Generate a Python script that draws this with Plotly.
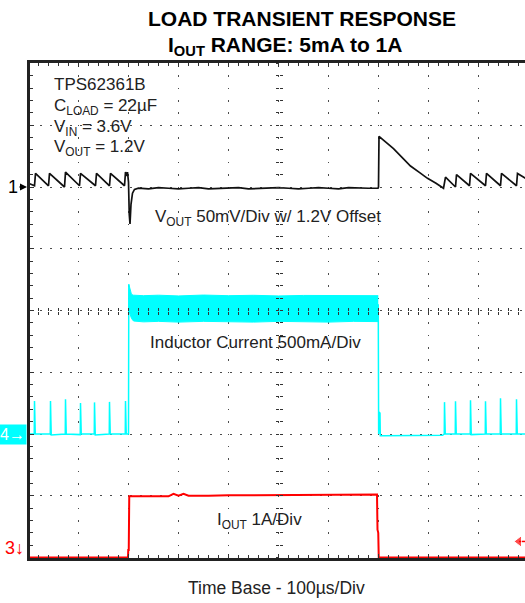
import plotly.graph_objects as go

# ---------------------------------------------------------------- geometry
FIG_W, FIG_H = 525, 603
M_L, M_R, M_T, M_B = 30, 0, 63, 45
PLOT_W = FIG_W - M_L - M_R
PLOT_H = FIG_H - M_T - M_B

X_RANGE = [3, 993]           # time in µs, 100 µs per division
Y_RANGE = [-4.008, 4.008]    # screen divisions

# ---------------------------------------------------------------- channel setup
VOUT_SCALE_MV = 50.0   # CH1, mV/div, 1.2 V offset removed
VOUT_POS_DIV = 2.0
IL_SCALE_MA = 500.0    # CH4, mA/div
IL_POS_DIV = -2.0
IOUT_SCALE_A = 1.0     # CH3, A/div
IOUT_POS_DIV = -4.0
TRIGGER_LEVEL_A = 0.26

# ---------------------------------------------------------------- waveforms
# output voltage deviation from 1.2 V (mV)
vout_t = [0, 12, 14, 40, 42, 72, 74, 102, 104, 134, 136, 162, 164, 192, 194, 197, 198,
          200, 201.5, 203, 205, 208, 212, 220, 240, 260, 280, 300, 320, 340, 360, 380,
          400, 420, 440, 460, 480, 500, 520, 540, 560, 580, 600, 620, 640, 660, 680,
          699, 700, 701, 715, 730, 747, 764, 781, 798, 815, 830, 834, 854, 856, 882,
          884, 914, 916, 944, 946, 976, 978, 994]
vout_mv = [3, 1, 11, 1, 11, 0, 12, 1, 11, 1, 11, 1, 11, 1, 12, 9, 12,
           4, -22, -30, -14, -5, -2, -1, -1.5, -0.5, -1, -1.5, -1, -0.5, -1.5, -1,
           -1, -0.5, -1.5, -1, -1, -0.5, -1, -1.5, -1, -0.5, -1, -1.5, -0.5, -1, -1,
           -1, 0, 41, 36, 31, 24, 17, 12, 7, 3, -1, 8, 0, 10, 1,
           11, 1, 11, 1, 11, 1, 11, 7]

# inductor current (mA), light-load pulses before the load step
il_left_t = [0, 11.5, 12, 12.8, 13.5, 43.5, 44, 44.8, 45.5, 73.5, 74, 74.8, 75.5,
             103.5, 104, 104.8, 105.5, 131.5, 132, 132.8, 133.5, 161.5, 162, 162.8,
             163.5, 193.5, 194, 194.8, 195.5, 200, 200.6]
il_left_ma = [0, 0, 268, 120, 0, 0, 268, 110, -8, 0, 282, 130, 0,
              -5, 250, 115, 0, 0, 256, 120, -8, 0, 260, 125,
              0, 0, 268, 130, 0, 0, 1212]

# inductor current ripple envelope during the 1 A load (mA)
band_t = [200.6, 202, 204, 206, 210, 230, 260, 300, 350, 400, 450, 500, 550, 600, 650, 699.5]
band_hi_ma = [1212, 1190, 1150, 1130, 1124, 1120, 1124, 1118, 1125, 1120, 1123, 1118, 1122, 1120, 1124, 1120]
band_lo_ma = [1000, 985, 960, 935, 915, 908, 912, 906, 912, 908, 906, 912, 910, 906, 912, 910]

# inductor current after the load is released (mA)
il_right_t = [699.5, 700.3, 701, 703, 703.6, 710, 760, 800, 828, 831.5, 832, 832.8, 833.5,
              853.5, 854, 854.8, 855.5, 883.5, 884, 884.8, 885.5, 913.5, 914, 914.8,
              915.5, 943.5, 944, 944.8, 945.5, 975.5, 976, 976.8, 977.5, 994]
il_right_ma = [1050, 0, 177, 170, -15, -15, -12, -15, -10, 0, 258, 121, 0,
               0, 266, 120, 0, 0, 274, 125, -5, 0, 266, 118,
               0, 0, 290, 130, 0, 0, 282, 125, 0, 0]

# load current (A)
iout_t = [0, 100, 199, 199.5, 200.5, 201.5, 240, 280, 290, 300, 310, 320, 360, 400,
          450, 500, 550, 600, 650, 697, 698, 699.5, 700.5, 994]
iout_a = [0, 0, 0, 0.12, 0.12, 0.99, 0.99, 0.99, 1.03, 1.0, 1.03, 1.0, 1.0, 1.01,
          1.01, 1.01, 1.02, 1.02, 1.02, 1.02, 0.45, 0.4, 0, 0]


def to_div(values, scale, pos):
    return [pos + v / scale for v in values]


def px_x(px):
    return (px - M_L) / PLOT_W


def px_y(py):
    return (FIG_H - M_B - py) / PLOT_H


CYAN = "#00FFFF"
RED = "#FF0000"
INK = "#222222"
GRID = "#4d4d4d"
FONT = "Liberation Sans, Arial, sans-serif"

fig = go.Figure()

# inductor current ripple band
fig.add_trace(go.Scatter(x=band_t, y=to_div(band_lo_ma, IL_SCALE_MA, IL_POS_DIV),
                         mode="lines", line=dict(color=CYAN, width=1)))
fig.add_trace(go.Scatter(x=band_t, y=to_div(band_hi_ma, IL_SCALE_MA, IL_POS_DIV),
                         mode="lines", line=dict(color=CYAN, width=1),
                         fill="tonexty", fillcolor=CYAN))
fig.add_trace(go.Scatter(x=il_left_t, y=to_div(il_left_ma, IL_SCALE_MA, IL_POS_DIV),
                         mode="lines", line=dict(color=CYAN, width=1.5)))
fig.add_trace(go.Scatter(x=il_right_t, y=to_div(il_right_ma, IL_SCALE_MA, IL_POS_DIV),
                         mode="lines", line=dict(color=CYAN, width=1.5)))

# load current
fig.add_trace(go.Scatter(x=iout_t, y=to_div(iout_a, IOUT_SCALE_A, IOUT_POS_DIV),
                         mode="lines", line=dict(color=RED, width=2)))

# output voltage
fig.add_trace(go.Scatter(x=vout_t, y=to_div(vout_mv, VOUT_SCALE_MV, VOUT_POS_DIV),
                         mode="lines", line=dict(color="#111111", width=1.7)))

# trigger level marker on the right edge
trig_y = IOUT_POS_DIV + TRIGGER_LEVEL_A / IOUT_SCALE_A
fig.add_trace(go.Scatter(x=[X_RANGE[1] - 12, X_RANGE[1]], y=[trig_y, trig_y],
                         mode="lines+markers", cliponaxis=False,
                         line=dict(color=RED, width=1.5),
                         marker=dict(symbol=["triangle-left", "line-ns"], size=[10, 0],
                                     color=RED)))

# carriers for the centre graticule axes
for xa, ya in (("x2", "y"), ("x3", "y"), ("x", "y2"), ("x", "y3")):
    fig.add_trace(go.Scatter(x=[], y=[], xaxis=xa, yaxis=ya, hoverinfo="skip"))

common = dict(showticklabels=False, zeroline=False, fixedrange=True)
tick_col = "#333333"

fig.update_layout(
    width=FIG_W, height=FIG_H,
    margin=dict(l=M_L, r=M_R, t=M_T, b=M_B, pad=0),
    paper_bgcolor="white", plot_bgcolor="white",
    showlegend=False, hovermode=False,
    font=dict(family=FONT, color=INK),
    xaxis=dict(range=X_RANGE, dtick=100, tick0=0, showgrid=True, gridcolor=GRID,
               gridwidth=1.2, griddash="1.6px,10.75px",
               ticks="inside", ticklen=4, tickcolor=tick_col, tickwidth=1,
               showline=True, linecolor=INK, linewidth=3, mirror="ticks",
               layer="above traces",
               minor=dict(dtick=20, tick0=0, ticks="inside", ticklen=3,
                          tickcolor=tick_col, showgrid=False),
               **common),
    yaxis=dict(range=Y_RANGE, dtick=1, tick0=0, showgrid=True, gridcolor=GRID,
               gridwidth=1.2, griddash="1.6px,8.4px",
               ticks="inside", ticklen=4, tickcolor=tick_col, tickwidth=1,
               showline=True, linecolor=INK, linewidth=3, mirror=False,
               layer="above traces",
               minor=dict(dtick=0.2, tick0=0, ticks="inside", ticklen=3,
                          tickcolor=tick_col, showgrid=False),
               **common),
)

# centre cross of the graticule with short tick marks on both sides
for name, direction in (("xaxis2", "inside"), ("xaxis3", "outside")):
    fig.layout[name] = dict(overlaying="x", anchor="free", position=0.5, range=X_RANGE,
                            showgrid=False, showline=False, dtick=100, tick0=0,
                            ticks=direction, ticklen=3, tickcolor=tick_col,
                            minor=dict(dtick=20, tick0=0, ticks=direction, ticklen=3,
                                       tickcolor=tick_col),
                            **common)
centre_x = (500 - X_RANGE[0]) / (X_RANGE[1] - X_RANGE[0])
for name, direction in (("yaxis2", "inside"), ("yaxis3", "outside")):
    fig.layout[name] = dict(overlaying="y", anchor="free", position=centre_x, range=Y_RANGE,
                            showgrid=False, showline=False, dtick=1, tick0=0,
                            ticks=direction, ticklen=3, tickcolor=tick_col,
                            minor=dict(dtick=0.2, tick0=0, ticks=direction, ticklen=3,
                                       tickcolor=tick_col),
                            **common)

annotations = []


def label(text, x_px, base_px, size=17, sub=False, anchor="left", color=INK, bold=False):
    drop = 8.5 if sub else 4.8
    if bold:
        text = "<b>" + text + "</b>"
    annotations.append(dict(text=text, xref="paper", yref="paper",
                            x=px_x(x_px), y=px_y(base_px + drop),
                            xanchor=anchor, yanchor="bottom", showarrow=False,
                            font=dict(family=FONT, size=size, color=color)))


# title
label("LOAD TRANSIENT RESPONSE", 302, 27.5, size=21, anchor="center", color="#000000", bold=True)
label("I<sub style=\"font-size:85%\">OUT</sub> RANGE: 5mA to 1A", 285, 52, size=21, sub=True,
      anchor="center", color="#000000", bold=True)

# test conditions
label("TPS62361B", 52, 91)
label("C<sub>LOAD</sub> = 22µF", 52, 111.5, sub=True)
label("V<sub>IN</sub> = 3.6V", 52, 132, sub=True)
label("V<sub>OUT</sub> = 1.2V", 52, 153, sub=True)

# channel descriptions
label("V<sub>OUT</sub> 50mV/Div w/ 1.2V Offset", 153, 222.5, sub=True)
label("Inductor Current 500mA/Div", 148, 349.5)
label("I<sub>OUT</sub> 1A/Div", 215, 525.5, sub=True)
label("Time Base - 100µs/Div", 186, 595.5, size=17.5)

# channel ground markers
annotations.append(dict(text="1", xref="paper", yref="y", x=px_x(27), y=VOUT_POS_DIV,
                        showarrow=True, ax=-14, ay=0, arrowhead=2, arrowsize=1,
                        arrowwidth=1.4, arrowcolor="#000000",
                        font=dict(family=FONT, size=18, color="#000000")))
annotations.append(dict(text="4→", xref="paper", yref="y", x=px_x(27), y=IL_POS_DIV,
                        xanchor="right", yanchor="middle", showarrow=False,
                        bgcolor=CYAN, borderpad=1,
                        font=dict(family=FONT, size=16, color="white")))
annotations.append(dict(text="3↓", xref="paper", yref="y", x=px_x(26), y=IOUT_POS_DIV,
                        xanchor="right", yanchor="bottom", yshift=-2, showarrow=False,
                        font=dict(family=FONT, size=18, color=RED)))

fig.update_layout(annotations=annotations)

fig.write_html("out.html")
